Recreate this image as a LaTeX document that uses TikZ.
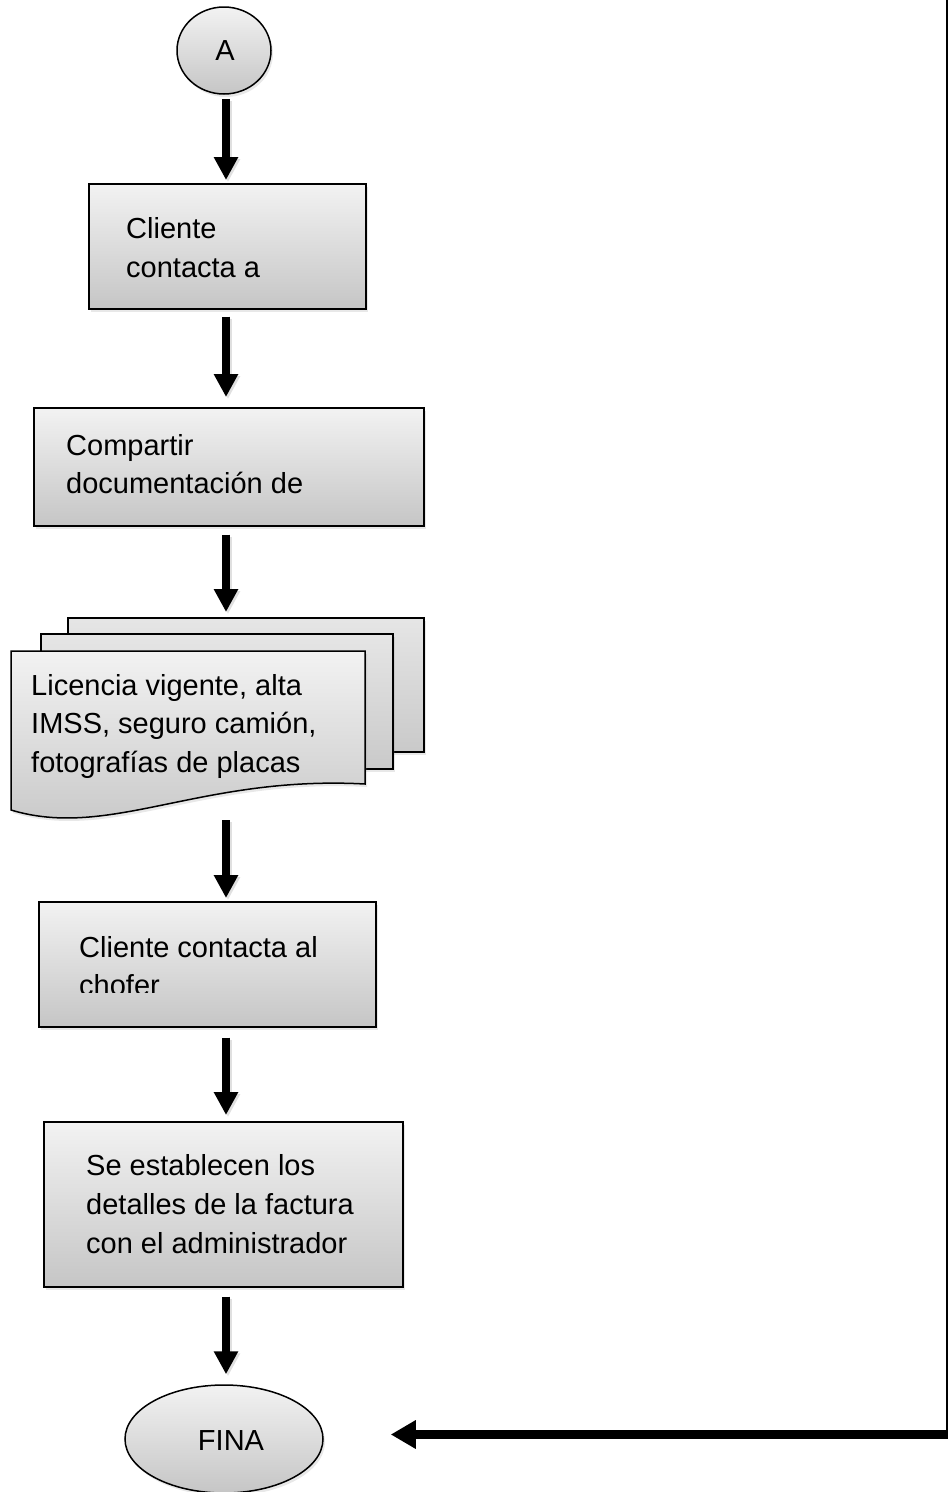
\documentclass[tikz,border=0pt]{standalone}
\usepackage{fontspec}
\setmainfont{Liberation Sans}
\usetikzlibrary{arrows.meta,shadows,shapes.geometric}

\tikzset{
  shade box/.style={draw=black, line width=1.5pt,
    top color=gray!10, bottom color=gray!45,
    drop shadow={opacity=0.18, shadow xshift=2pt, shadow yshift=-3pt}},
  procbox/.style={shade box, rectangle, inner sep=0pt, anchor=north west},
  backsheet/.style={procbox, top color=gray!20, bottom color=gray!42},
  termnode/.style={shade box, ellipse, inner sep=0pt},
  txt/.style={anchor=base west, inner sep=0pt, font=\fontsize{29}{38}\selectfont},
  ctxt/.style={anchor=base, inner sep=0pt, font=\fontsize{29}{38}\selectfont},
  flow/.style={line width=7.5pt, -{Triangle[width=23pt, length=23pt]},
    preaction={draw=black, opacity=0.12, line width=7.5pt, transform canvas={xshift=2pt, yshift=-2pt}}},
  backflow/.style={line width=8.5pt, -{Triangle[width=27pt, length=25pt]}},
}

\begin{document}
\begin{tikzpicture}[x=1pt, y=-1pt]
\useasboundingbox (0,0) rectangle (948,1492);

% column of the main flow
\coordinate (col) at (226,0);

% start connector
\node[termnode, minimum width=94pt, minimum height=87pt] (A) at (224,50.5) {};
\node[ctxt] (Atxt) at (225,60) {A};

% process boxes
\node[procbox, minimum width=277pt, minimum height=125pt] (b1) at (88,183) {};
\node[txt] (b1l1) at (126,238) {Cliente};
\node[txt] (b1l2) at (126,277) {contacta a};

\node[procbox, minimum width=390pt, minimum height=118pt] (b2) at (33,407) {};
\node[txt] (b2l1) at (66,455) {Compartir};
\node[txt] (b2l2) at (66,493) {documentación de};

% stacked documents: two sheets behind, the wavy front sheet on top
\node[backsheet, minimum width=356pt, minimum height=134pt] (s3) at (67,617) {};
\node[backsheet, minimum width=352pt, minimum height=135pt] (s2) at (40,633) {};
\path[shade box] (11,651) -- (365,651) -- (365,784)
  .. controls (200,775) and (110,840) .. (11,810) -- cycle;
\coordinate (docT) at (226,617);
\coordinate (docB) at (226,812);
\node[txt] (d1) at (31,695) {Licencia vigente, alta};
\node[txt] (d2) at (31,733) {IMSS, seguro camión,};
\node[txt] (d3) at (31,772) {fotografías de placas};

\node[procbox, minimum width=337pt, minimum height=125pt] (b4) at (38,901) {};
\node[txt] (b4l1) at (79,957) {Cliente contacta al};
\begin{scope}
  \clip (38,960) rectangle (375,992);
  \node[txt] (b4l2) at (79,995) {chofer};
\end{scope}

\node[procbox, minimum width=359pt, minimum height=165pt] (b5) at (43,1121) {};
\node[txt] (b5l1) at (86,1175) {Se establecen los};
\node[txt] (b5l2) at (86,1214) {detalles de la factura};
\node[txt] (b5l3) at (86,1253) {con el administrador};

% end terminator
\node[termnode, minimum width=198pt, minimum height=108pt] (fin) at (224,1439) {};
\node[ctxt] (fintxt) at (231,1450) {FINA};

% main flow arrows
\draw[flow, shorten <=4pt, shorten >=3pt] (col |- A.south) -- (col |- b1.north);
\draw[flow, shorten <=7pt, shorten >=10pt] (col |- b1.south) -- (col |- b2.north);
\draw[flow, shorten <=8pt, shorten >=5pt] (col |- b2.south) -- (docT);
\draw[flow, shorten <=8pt, shorten >=3pt] (docB) -- (col |- b4.north);
\draw[flow, shorten <=10pt, shorten >=6pt] (col |- b4.south) -- (col |- b5.north);
\draw[flow, shorten <=9pt, shorten >=10pt] (col |- b5.south) -- (col |- fin.north);

% return line along the right edge
\coordinate (rtop) at (950,-10);
\coordinate (rbend) at (950,1434.5);
\draw[backflow, shorten >=67pt] (rtop) -- (rbend) -- (rbend -| fin.east);
\end{tikzpicture}
\end{document}
